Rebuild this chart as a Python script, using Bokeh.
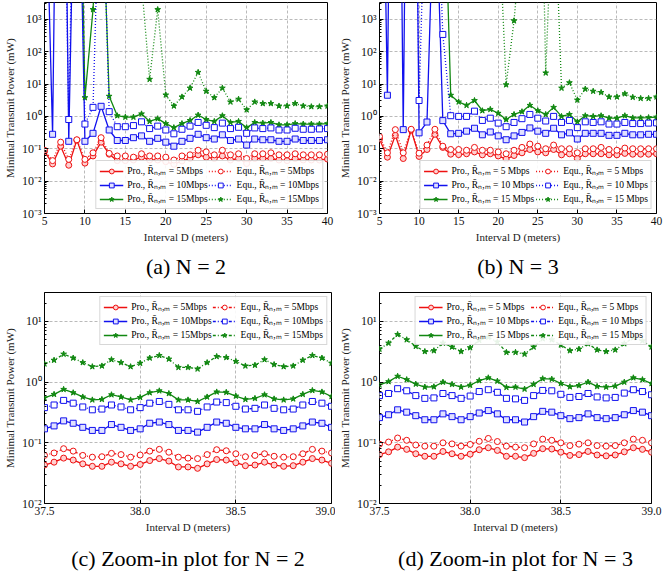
import numpy as np
from bokeh.plotting import figure
from bokeh.models import Range1d, FixedTicker, Legend, LegendItem, Title
from bokeh.layouts import column, row
from bokeh.embed import file_html
from bokeh.resources import INLINE

# ---------------- data ----------------
D_wide = list(range(5, 41))

# N = 2 (infeasible points are given very large values, drawn off the top)
pro5_n2 = [0.084, 0.034, 0.12, 0.031, 0.185, 0.036, 0.06, 0.16, 0.068, 0.043, 0.043, 0.045,
           0.055, 0.045, 0.045, 0.04, 0.033, 0.042, 0.05, 0.065, 0.055, 0.05, 0.06, 0.045,
           0.05, 0.035, 0.05, 0.05, 0.05, 0.045, 0.043, 0.05, 0.045, 0.045, 0.045, 0.048]
equ5_n2 = [0.09, 0.043, 0.16, 0.047, 0.19, 0.047, 0.075, 0.22, 0.072, 0.06, 0.06, 0.055,
           0.07, 0.06, 0.06, 0.055, 0.045, 0.06, 0.065, 0.09, 0.08, 0.065, 0.09, 0.065,
           0.07, 0.05, 0.07, 0.07, 0.075, 0.065, 0.065, 0.07, 0.065, 0.065, 0.065, 0.068]
pro10_n2 = [1e9, 0.28, 1e20, 0.17, 1e12, 0.17, 0.3, 2.05, 0.38, 0.18, 0.18, 0.22,
            0.25, 0.17, 0.21, 0.16, 0.12, 0.17, 0.21, 0.28, 0.22, 0.2, 0.27, 0.18,
            0.2, 0.13, 0.2, 0.19, 0.19, 0.17, 0.17, 0.2, 0.18, 0.18, 0.18, 0.19]
equ10_n2 = [1e12, 1e12, 1e14, 0.8, 1e14, 0.58, 1.9, 1e9, 1.4, 0.48, 0.48, 0.52,
            0.68, 0.42, 0.5, 0.38, 0.29, 0.4, 0.5, 0.65, 0.53, 0.45, 0.62, 0.42,
            0.46, 0.3, 0.44, 0.42, 0.44, 0.38, 0.38, 0.43, 0.4, 0.4, 0.41, 0.42]
pro15_n2 = [1e12, 1e12, 1e12, 1e12, 1e14, 3.8, 2000, 1e8, 4.2, 1.05, 0.95, 0.95,
            1.2, 0.7, 0.85, 0.6, 0.45, 0.6, 0.75, 1.1, 0.8, 0.7, 1.05, 0.65,
            0.7, 0.45, 0.65, 0.62, 0.65, 0.55, 0.55, 0.6, 0.58, 0.58, 0.58, 0.6]
equ15_n2 = [1e12, 1e12, 1e12, 1e12, 1e12, 1e12, 1e12, 1e12, 1e12, 1e12, 1e12, 1e12,
            1.3e4, 14, 2000, 4.6, 2.1, 4.0, 7.5, 23, 6, 3.8, 7.5, 2.8,
            3.4, 1.6, 2.8, 2.5, 2.5, 2.1, 2.1, 2.5, 2.1, 2.0, 2.0, 2.1]

# N = 3
pro5_n3 = [0.2, 0.055, 0.26, 0.05, 0.38, 0.058, 0.095, 0.28, 0.11, 0.068, 0.066, 0.07,
           0.08, 0.065, 0.07, 0.06, 0.048, 0.062, 0.075, 0.095, 0.08, 0.075, 0.095, 0.065,
           0.07, 0.05, 0.07, 0.07, 0.07, 0.065, 0.065, 0.072, 0.068, 0.068, 0.068, 0.07]
equ5_n3 = [0.24, 0.075, 0.39, 0.075, 0.4, 0.073, 0.13, 0.4, 0.12, 0.095, 0.095, 0.09,
           0.11, 0.09, 0.09, 0.08, 0.07, 0.09, 0.11, 0.14, 0.12, 0.1, 0.13, 0.1,
           0.1, 0.075, 0.1, 0.1, 0.11, 0.095, 0.09, 0.105, 0.1, 0.1, 0.1, 0.1]
pro10_n3 = [1e15, 4.5, 1e24, 0.39, 1e24, 0.31, 0.67, 1e8, 0.74, 0.29, 0.3, 0.35,
            0.43, 0.27, 0.33, 0.25, 0.19, 0.25, 0.32, 0.44, 0.35, 0.3, 0.43, 0.27,
            0.31, 0.2, 0.3, 0.3, 0.3, 0.26, 0.26, 0.3, 0.27, 0.27, 0.28, 0.28]
equ10_n3 = [1e12, 1e12, 1e12, 1e12, 1e20, 3.1, 1e9, 1e9, 340, 1.05, 1.0, 1.0,
            1.45, 0.75, 0.88, 0.62, 0.48, 0.65, 0.85, 1.15, 0.88, 0.72, 1.0, 0.65,
            0.75, 0.45, 0.68, 0.65, 0.68, 0.58, 0.58, 0.65, 0.6, 0.6, 0.62, 0.63]
pro15_n3 = [1e12, 1e12, 1e12, 1e12, 1e12, 1e12, 1e12, 1e12, 1e9, 4.5, 2.8, 2.2,
            3.1, 1.5, 1.65, 1.25, 0.8, 1.15, 1.4, 2.2, 1.5, 1.15, 1.9, 1.0,
            1.15, 0.68, 1.05, 1.0, 1.05, 0.88, 0.88, 1.05, 0.9, 0.9, 0.92, 0.95]
equ15_n3 = [1e12, 1e12, 1e12, 1e12, 1e12, 1e12, 1e12, 1e12, 1e12, 1e12, 1e12, 1e12,
            1e12, 1e12, 1e12, 3e6, 9.5, 900, 6e5, 1e10, 1e14, 22, 3e7, 7.5,
            11, 3.2, 7, 6, 5.5, 4, 4, 5, 3.9, 3.6, 3.6, 4]

# Zoom-in, D from 37.5 to 39.0 in steps of 0.05
D_zoom = [37.5, 37.55, 37.6, 37.65, 37.7, 37.75, 37.8, 37.85, 37.9, 37.95, 38.0,
          38.05, 38.1, 38.15, 38.2, 38.25, 38.3, 38.35, 38.4, 38.45, 38.5,
          38.55, 38.6, 38.65, 38.7, 38.75, 38.8, 38.85, 38.9, 38.95, 39.0]

zpro5_n2 = [0.043, 0.048, 0.056, 0.052, 0.045, 0.041, 0.041, 0.048, 0.045, 0.041, 0.044,
            0.051, 0.055, 0.05, 0.04, 0.04, 0.038, 0.045, 0.053, 0.052, 0.047,
            0.042, 0.043, 0.048, 0.043, 0.041, 0.042, 0.048, 0.055, 0.052, 0.046]
zequ5_n2 = [0.062, 0.068, 0.08, 0.073, 0.062, 0.058, 0.059, 0.067, 0.064, 0.058, 0.063,
            0.073, 0.078, 0.07, 0.058, 0.056, 0.055, 0.064, 0.077, 0.074, 0.066,
            0.059, 0.062, 0.066, 0.06, 0.058, 0.059, 0.066, 0.078, 0.073, 0.068]
zpro10_n2 = [0.17, 0.19, 0.23, 0.21, 0.18, 0.16, 0.16, 0.2, 0.18, 0.16, 0.17,
             0.21, 0.22, 0.2, 0.16, 0.16, 0.15, 0.18, 0.22, 0.21, 0.18,
             0.17, 0.17, 0.2, 0.17, 0.16, 0.17, 0.19, 0.22, 0.21, 0.18]
zequ10_n2 = [0.38, 0.42, 0.5, 0.45, 0.39, 0.35, 0.36, 0.42, 0.39, 0.35, 0.38,
             0.45, 0.48, 0.43, 0.35, 0.35, 0.33, 0.39, 0.47, 0.46, 0.4,
             0.36, 0.37, 0.42, 0.37, 0.35, 0.36, 0.42, 0.48, 0.45, 0.4]
zpro15_n2 = [0.55, 0.63, 0.76, 0.67, 0.57, 0.51, 0.52, 0.62, 0.57, 0.51, 0.56,
             0.67, 0.72, 0.65, 0.51, 0.51, 0.48, 0.57, 0.69, 0.68, 0.59,
             0.52, 0.54, 0.62, 0.53, 0.51, 0.53, 0.63, 0.73, 0.69, 0.58]
zequ15_n2 = [2.0, 2.3, 2.9, 2.5, 2.1, 1.8, 1.85, 2.35, 2.1, 1.8, 2.05,
             2.5, 2.75, 2.4, 1.75, 1.75, 1.65, 2.1, 2.65, 2.55, 2.2,
             1.85, 1.9, 2.35, 1.95, 1.8, 1.85, 2.3, 2.75, 2.5, 2.05]

zpro5_n3 = [0.064, 0.071, 0.085, 0.078, 0.066, 0.06, 0.06, 0.072, 0.066, 0.06, 0.065,
            0.077, 0.083, 0.075, 0.06, 0.06, 0.057, 0.067, 0.08, 0.079, 0.07,
            0.062, 0.064, 0.072, 0.063, 0.061, 0.063, 0.071, 0.083, 0.078, 0.07]
zequ5_n3 = [0.095, 0.103, 0.12, 0.11, 0.092, 0.088, 0.088, 0.1, 0.096, 0.088, 0.094,
            0.106, 0.118, 0.105, 0.088, 0.085, 0.083, 0.096, 0.115, 0.11, 0.1,
            0.09, 0.095, 0.1, 0.09, 0.088, 0.09, 0.1, 0.115, 0.11, 0.1]
zpro10_n3 = [0.26, 0.29, 0.35, 0.32, 0.28, 0.24, 0.24, 0.3, 0.27, 0.24, 0.27,
             0.31, 0.34, 0.3, 0.24, 0.24, 0.22, 0.27, 0.33, 0.32, 0.28,
             0.25, 0.26, 0.3, 0.26, 0.25, 0.26, 0.29, 0.34, 0.32, 0.28]
zequ10_n3 = [0.6, 0.65, 0.78, 0.72, 0.6, 0.54, 0.55, 0.65, 0.6, 0.54, 0.59,
             0.7, 0.75, 0.68, 0.54, 0.53, 0.5, 0.6, 0.73, 0.72, 0.63,
             0.56, 0.58, 0.65, 0.57, 0.55, 0.56, 0.66, 0.75, 0.7, 0.62]
zpro15_n3 = [0.9, 1.02, 1.25, 1.1, 0.93, 0.83, 0.84, 1.0, 0.92, 0.83, 0.89,
             1.06, 1.18, 1.04, 0.82, 0.83, 0.77, 0.92, 1.14, 1.12, 0.95,
             0.84, 0.88, 1.0, 0.85, 0.83, 0.86, 1.0, 1.18, 1.1, 0.95]
zequ15_n3 = [3.5, 4.4, 6.1, 5.0, 3.9, 3.2, 3.3, 4.4, 3.8, 3.2, 3.7,
             4.9, 5.5, 4.6, 3.1, 3.1, 2.9, 3.8, 5.2, 5.0, 4.1,
             3.3, 3.5, 4.3, 3.4, 3.2, 3.4, 4.3, 5.4, 4.8, 3.8]

wide_xticks = [5, 10, 15, 20, 25, 30, 35, 40]
zoom_xticks = [37.5, 38.0, 38.5, 39.0]
zoom_xlabels = ["37.5", "38.0", "38.5", "39.0"]
wide_yticks = [1e-3, 1e-2, 1e-1, 1e0, 1e1, 1e2, 1e3]
wide_ylabels = ["10\u207b\u00b3", "10\u207b\u00b2", "10\u207b\u00b9", "10\u2070", "10\u00b9", "10\u00b2", "10\u00b3"]
zoom_yticks = [1e-2, 1e-1, 1e0, 1e1]
zoom_ylabels = ["10\u207b\u00b2", "10\u207b\u00b9", "10\u2070", "10\u00b9"]

RBAR = "R\u0304\u2099,\u2098"

# ---------------- style ----------------
FONT = "Liberation Serif"
RED = "#ee1111"
BLUE = "#1111ee"
GREEN = "#118811"


def make_fig(fw, fh, bl, br, bt, bb, xr, yr, xticks, xlabels, yticks, ylabels,
             series, legend_loc, caption, cap_offset, cap_standoff):
    p = figure(frame_width=fw, frame_height=fh, x_range=Range1d(*xr), y_range=Range1d(*yr),
               y_axis_type="log", output_backend="svg", toolbar_location=None,
               min_border_left=bl, min_border_right=br, min_border_top=bt,
               min_border_bottom=bb)
    p.outline_line_color = "black"
    p.outline_line_width = 1
    p.background_fill_color = "white"
    p.border_fill_color = "white"

    p.xaxis.ticker = FixedTicker(ticks=xticks)
    p.xaxis.major_label_overrides = {t: l for t, l in zip(xticks, xlabels)}
    minors = [m * t for t in yticks[:-1] for m in range(2, 10)]
    minors += [m * yticks[-1] for m in range(2, 10) if m * yticks[-1] <= yr[1]]
    p.yaxis.ticker = FixedTicker(ticks=yticks, minor_ticks=minors)
    p.yaxis.major_label_overrides = {t: l for t, l in zip(yticks, ylabels)}

    for ax in (p.xaxis[0], p.yaxis[0]):
        ax.axis_line_color = None
        ax.major_tick_in = 4
        ax.major_tick_out = 0
        ax.minor_tick_in = 2
        ax.minor_tick_out = 0
        ax.major_tick_line_color = "black"
        ax.minor_tick_line_color = "black"
        ax.major_label_text_font = FONT
        ax.major_label_text_font_size = "11.5px"
        ax.major_label_text_color = "#111111"
        ax.axis_label_text_font = FONT
        ax.axis_label_text_font_size = "11px"
        ax.axis_label_text_font_style = "normal"
        ax.axis_label_text_color = "#222222"
        ax.major_label_standoff = 3
        ax.axis_label_standoff = 3
    p.yaxis.major_label_text_font_size = "12px"
    p.xaxis.minor_tick_line_color = None
    p.xaxis.axis_label = "Interval D (meters)"
    p.yaxis.axis_label = "Minimal Transmit Power (mW)"

    p.grid.grid_line_color = "#a8a8a8"
    p.grid.grid_line_dash = "3 2"
    p.grid.grid_line_width = 0.8

    items = []
    for name, xs, ys, color, marker, dash, size, fill in series:
        l = p.line(xs, ys, line_color=color, line_width=1.3, line_dash=dash)
        s = p.scatter(xs, ys, marker=marker, size=size, line_color=color,
                      fill_color=fill, line_width=1.0)
        items.append(LegendItem(label=name, renderers=[l, s]))

    leg = Legend(items=items, location=legend_loc, nrows=3, ncols=2)
    leg.label_text_font = FONT
    leg.label_text_font_size = "9.5px"
    leg.label_text_color = "black"
    leg.glyph_width = 24
    leg.glyph_height = 12
    leg.label_height = 12
    leg.label_standoff = 4
    leg.spacing = 1
    leg.padding = 3
    leg.margin = 4
    leg.border_line_color = "#b0b0b0"
    leg.border_line_width = 1
    leg.background_fill_alpha = 0.9
    p.add_layout(leg)

    t = Title(text=caption, align="center", text_font=FONT, text_font_size="22px",
              text_font_style="normal", text_color="black", offset=cap_offset,
              standoff=cap_standoff)
    p.add_layout(t, "below")
    return p


def series_list(x, pro5, pro10, pro15, equ5, equ10, equ15, sep, equ_dash):
    return [
        ("Pro., %s = 5%sMbps" % (RBAR, sep), x, pro5, RED, "circle", "solid", 6, "#ffd0d0"),
        ("Pro., %s = 10%sMbps" % (RBAR, sep), x, pro10, BLUE, "square", "solid", 6, "#e0e0ff"),
        ("Pro., %s = 15%sMbps" % (RBAR, sep), x, pro15, GREEN, "star", "solid", 6, GREEN),
        ("Equ., %s = 5%sMbps" % (RBAR, sep), x, equ5, RED, "circle", equ_dash, 6, "white"),
        ("Equ., %s = 10%sMbps" % (RBAR, sep), x, equ10, BLUE, "square", equ_dash, 6, "white"),
        ("Equ., %s = 15%sMbps" % (RBAR, sep), x, equ15, GREEN, "star", equ_dash, 6, GREEN),
    ]


pa = make_fig(283, 211, 37, 8, 2, 77, (5, 40), (1e-3, 3.3e3), wide_xticks,
              [str(v) for v in wide_xticks], wide_yticks, wide_ylabels,
              series_list(D_wide, pro5_n2, pro10_n2, pro15_n2, equ5_n2, equ10_n2, equ15_n2, "", "1 2"),
              "bottom_right", "(a) N = 2", -16, 13)
pb = make_fig(277, 211, 37, 8, 2, 77, (5, 40), (1e-3, 3.3e3), wide_xticks,
              [str(v) for v in wide_xticks], wide_yticks, wide_ylabels,
              series_list(D_wide, pro5_n3, pro10_n3, pro15_n3, equ5_n3, equ10_n3, equ15_n3, " ", "1 2"),
              "bottom_right", "(b) N = 3", -24, 13)
pc = make_fig(287, 211, 37, 4, 2, 70, (37.5, 39.0), (1e-2, 30), zoom_xticks, zoom_xlabels,
              zoom_yticks, zoom_ylabels,
              series_list(D_zoom, zpro5_n2, zpro10_n2, zpro15_n2, zequ5_n2, zequ10_n2, zequ15_n2, "", "3 2 1 2"),
              "top_right", "(c) Zoom-in plot for N = 2", 0, 16)
pd_ = make_fig(272, 211, 38, 12, 2, 70, (37.5, 39.0), (1e-2, 30), zoom_xticks, zoom_xlabels,
               zoom_yticks, zoom_ylabels,
               series_list(D_zoom, zpro5_n3, zpro10_n3, zpro15_n3, zequ5_n3, zequ10_n3, zequ15_n3, " ", "3 2 1 2"),
               "top_right", "(d) Zoom-in plot for N = 3", 0, 16)

layout = column(row(pa, pb), row(pc, pd_))
open("out.html", "w").write(file_html(layout, INLINE))
